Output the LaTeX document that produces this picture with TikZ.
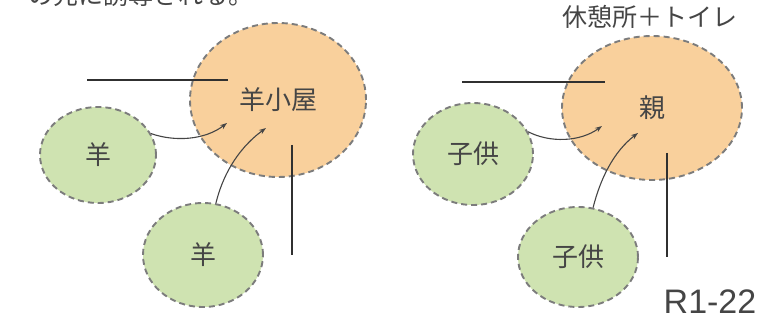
\documentclass[tikz,border=0pt]{standalone}
\usepackage{fontspec}
\setmainfont{Liberation Sans}
\newfontfamily\jpfont{Noto Sans CJK JP}
\usetikzlibrary{shapes.geometric,arrows.meta}
\definecolor{peach}{HTML}{F9D09C}
\definecolor{leaf}{HTML}{CFE3B1}
\definecolor{rim}{HTML}{7C7C7C}
\definecolor{ink}{HTML}{454545}
\definecolor{bar}{HTML}{303030}
\tikzset{
  hut/.style={ellipse, fill=peach, draw=rim, line width=1.9pt, dash pattern=on 6pt off 4pt, inner sep=0pt, text=ink, font=\jpfont\fontsize{26}{28}\selectfont},
  animal/.style={ellipse, fill=leaf, draw=rim, line width=1.9pt, dash pattern=on 6pt off 4pt, inner sep=0pt, text=ink, font=\jpfont\fontsize{26}{28}\selectfont},
  wall/.style={draw=bar, line width=2.4pt},
  guide/.style={draw=ink, line width=1.1pt, -{Stealth[length=7pt,width=5pt]}},
  caption/.style={inner sep=0pt, text=ink, font=\jpfont\fontsize{25}{27}\selectfont}
}
\begin{document}
\begin{tikzpicture}[x=1pt,y=-1pt]
\useasboundingbox (0,0) rectangle (763,320);
\clip (0,0) rectangle (763,320);
\fill[white] (0,0) rectangle (763,320);
% top cut text
\node[caption, anchor=base west] (note) at (28,5) {の先に誘導される。};
\node[caption] (head) at (650,17) {休憩所＋トイレ};
\node[inner sep=0pt, text=ink, font=\fontsize{34}{36}\selectfont, anchor=base] (code) at (710,314) {R1-22};
% left group
\node[hut, minimum width=176pt, minimum height=154pt] (hutL) at (278,100) {羊小屋};
\node[animal, minimum width=116pt, minimum height=96pt] (sheepA) at (98,155) {羊};
\node[animal, minimum width=120pt, minimum height=104pt] (sheepB) at (203,255) {羊};
\coordinate (wLa) at (87,80); \coordinate (wLb) at (228,80);
\coordinate (wLc) at (292,145); \coordinate (wLd) at (292,255);
\draw[wall] (wLa) -- (wLb);
\draw[wall] (wLc) -- (wLd);
\coordinate (tA) at (227,123);
\coordinate (tB) at (266,128);
\draw[guide] (sheepA.22) .. controls (175,142) and (205,140) .. (tA);
\draw[guide] (sheepB.76) .. controls (222,178) and (236,150) .. (tB);
% right group
\node[hut, minimum width=180pt, minimum height=144pt] (hutR) at (652,108) {親};
\node[animal, minimum width=120pt, minimum height=102pt] (kidA) at (473,154) {子供};
\node[animal, minimum width=120pt, minimum height=100pt] (kidB) at (578,257) {子供};
\coordinate (wRa) at (462,82); \coordinate (wRb) at (605,82);
\coordinate (wRc) at (667,153); \coordinate (wRd) at (667,257);
\draw[wall] (wRa) -- (wRb);
\draw[wall] (wRc) -- (wRd);
\coordinate (tC) at (602,126);
\coordinate (tD) at (638,133);
\draw[guide] (kidA.22) .. controls (550,143) and (580,142) .. (tC);
\draw[guide] (kidB.73) .. controls (600,180) and (613,152) .. (tD);
\end{tikzpicture}
\end{document}
